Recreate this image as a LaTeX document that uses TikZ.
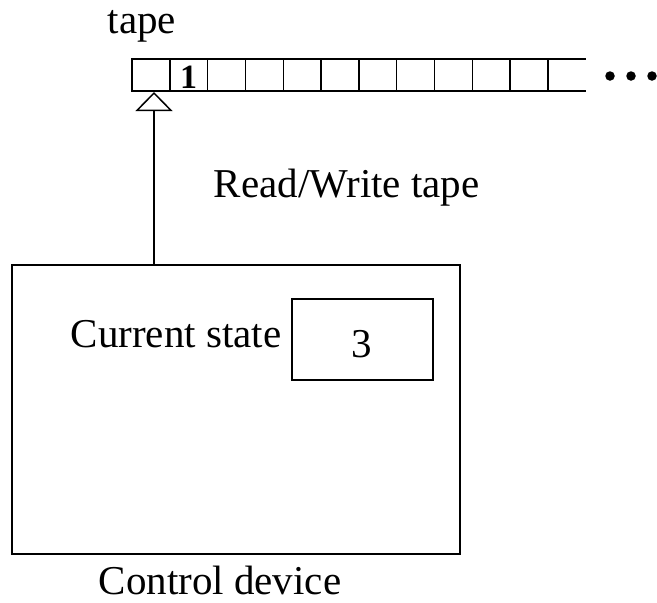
\documentclass[tikz,border=0pt]{standalone}
\usepackage{fontspec}
\setmainfont{Liberation Serif}
\usetikzlibrary{arrows.meta}
\begin{document}
\begin{tikzpicture}[x=1pt,y=-1pt,
  line width=1.5pt,
  lbl/.style={inner sep=0pt,anchor=base west,font=\fontsize{41}{49}\selectfont},
  cell/.style={draw,rectangle,minimum width=37.82pt,minimum height=32pt,inner sep=0pt,outer sep=0pt,line width=1.5pt},
  boxst/.style={draw,rectangle,inner sep=0pt,outer sep=0pt,line width=1.5pt},
  dotst/.style={circle,fill=black,inner sep=0pt,minimum size=9.5pt}]
\useasboundingbox (0,0) rectangle (657,603);
% tape cells
\foreach \i in {0,...,10}{
  \node[cell] (c\i) at ({132+37.82*\i+18.91},75) {};
}
\node[inner sep=0pt,font=\bfseries\fontsize{34}{40}\selectfont,anchor=base] (one) at (c1.center |- 0,88) {1};
\coordinate (tt) at (586,59);
\coordinate (tb) at (586,91);
\draw (c10.north east) -- (tt);
\draw (c10.south east) -- (tb);
% dots
\node[dotst] (d1) at (610,76) {};
\node[dotst] (d2) at (631,76) {};
\node[dotst] (d3) at (652,76) {};
% labels
\node[lbl] (tape) at (107,33) {tape};
\node[lbl] (rw) at (213,197) {Read/Write tape};
% control device
\node[boxst,minimum width=448pt,minimum height=289pt] (ctrl) at (236,409.5) {};
\node[boxst,minimum width=141pt,minimum height=81pt] (state) at (362.5,339.5) {};
\node[inner sep=0pt,anchor=base,font=\fontsize{41}{49}\selectfont] (three) at (362,357) {3};
\node[lbl] (cs) at (70,347) {Current state};
\node[lbl] (cd) at (98,594) {Control device};
% head arrow
\coordinate (head) at (154,92);
\draw[-{Triangle[open,width=37pt,length=19pt,line width=1.5pt]}] (ctrl.north -| head) -- (head);
\end{tikzpicture}
\end{document}
